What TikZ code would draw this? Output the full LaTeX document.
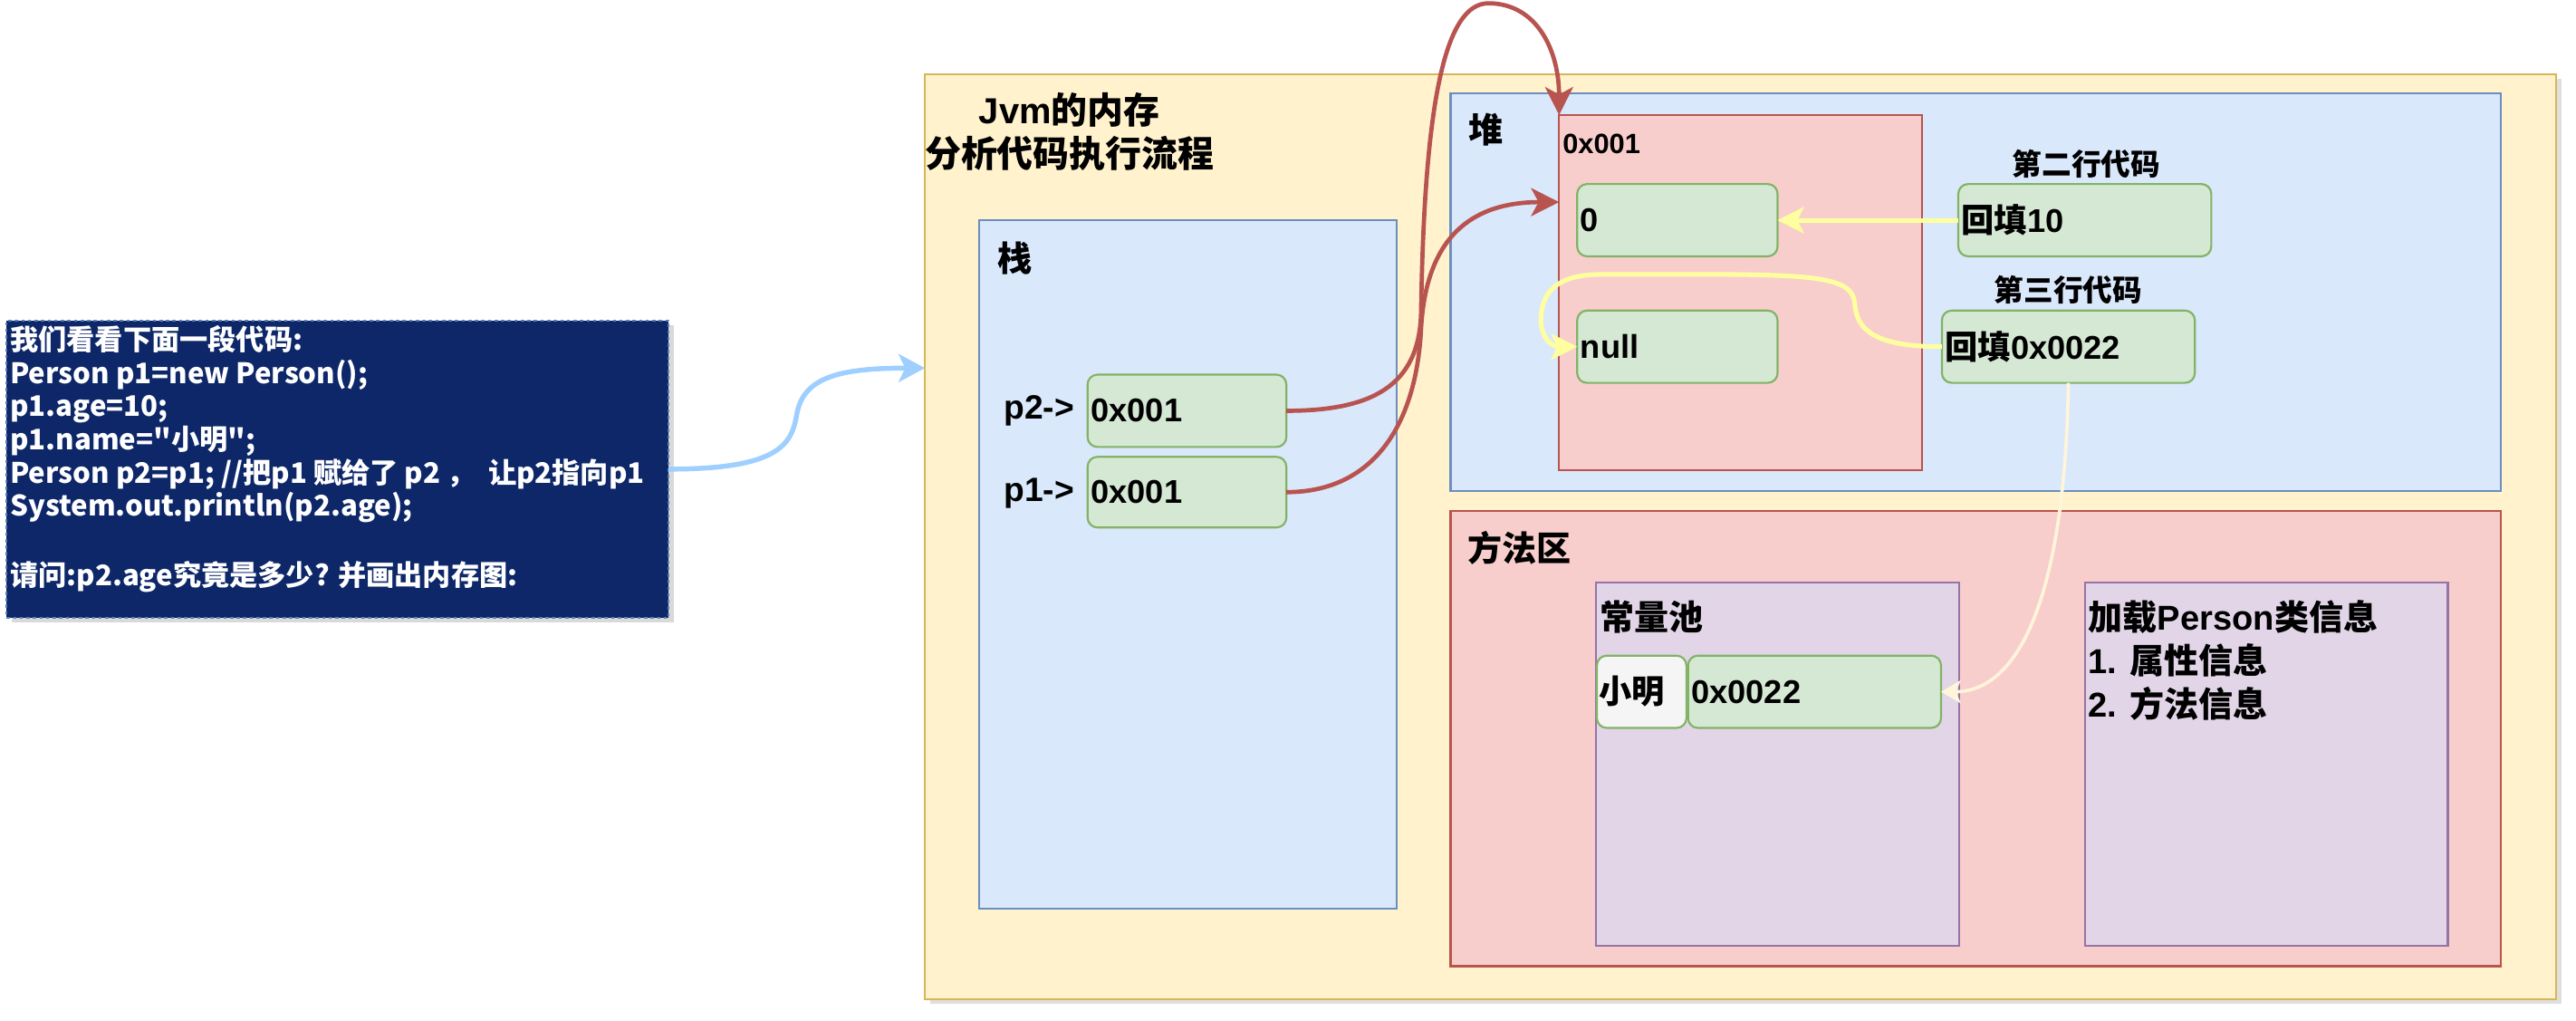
\documentclass[tikz,border=0pt]{standalone}
\usepackage{fontspec}
\setmainfont{Liberation Sans}
\newfontfamily\cjk{Noto Sans CJK SC}
\newcommand\zh[1]{{\cjk #1}}
\usetikzlibrary{arrows.meta,shadows}
\definecolor{yelF}{HTML}{FFF2CC}\definecolor{yelS}{HTML}{D6B656}
\definecolor{bluF}{HTML}{DAE8FC}\definecolor{bluS}{HTML}{6C8EBF}
\definecolor{redF}{HTML}{F8CECC}\definecolor{redS}{HTML}{B85450}
\definecolor{grnF}{HTML}{D5E8D4}\definecolor{grnS}{HTML}{82B366}
\definecolor{purF}{HTML}{E1D5E7}\definecolor{purS}{HTML}{9673A6}
\definecolor{gryF}{HTML}{F5F5F5}
\definecolor{navy}{HTML}{0D2769}\definecolor{navyS}{HTML}{5A7FB5}
\definecolor{yArrow}{HTML}{FFFFA0}\definecolor{cArrow}{HTML}{FFF5DB}
\definecolor{bArrow}{HTML}{9FCFFF}
\begin{document}
\begin{tikzpicture}[x=1pt,y=-1pt,
  area/.style={draw,line width=1.2pt,inner sep=0pt,outer sep=0pt,anchor=north west},
  gbox/.style={draw=grnS,fill=grnF,rounded corners=6pt,line width=1.2pt,inner sep=0pt,outer sep=0pt,
     anchor=north west,align=left,font=\bfseries\fontsize{20}{24}\selectfont},
  lbl/.style={font=\bfseries\fontsize{21}{26.5}\selectfont,inner sep=0pt,anchor=west},
  small/.style={font=\bfseries\fontsize{18}{22}\selectfont,inner sep=0pt},
  redline/.style={draw=redS,line width=2.6pt,-{Stealth[length=17pt,width=17pt,inset=4.5pt]}},
  yline/.style={draw=yArrow,line width=2.8pt,-{Stealth[length=16pt,width=16pt,inset=4pt]}},
  cline/.style={draw=cArrow,line width=2pt,-{Stealth[length=12pt,width=14pt,inset=3pt]}},
  bline/.style={draw=bArrow,line width=3pt,-{Stealth[length=16pt,width=17pt,inset=4pt]}}
]
\useasboundingbox (0,0) rectangle (1568,621);

% code screenshot
\node[area,draw=navyS,fill=navy,dash pattern=on 2pt off 2pt,line width=1pt,
      minimum width=403pt,minimum height=181pt,
      drop shadow={opacity=0.3,shadow xshift=3pt,shadow yshift=-3pt}] (code) at (4,195) {};
\node[inner sep=0pt,anchor=west,align=left,text=white,
      font=\cjk\bfseries\fontsize{17.2}{20.2}\selectfont] (codetext) at (6,279.3)
 {我们看看下面一段代码:\\
  Person p1=new Person();\\
  p1.age=10;\\
  p1.name="小明";\\
  Person p2=p1; //把p1 赋给了 p2 ，\ \ 让p2指向p1\\
  System.out.println(p2.age);\\
  \strut\\
  请问:p2.age究竟是多少? 并画出内存图:};

% JVM outer
\node[area,draw=yelS,fill=yelF,minimum width=993pt,minimum height=563pt,
      drop shadow={opacity=0.25,shadow xshift=3pt,shadow yshift=-3pt}] (jvm) at (563,45) {};
\node[inner sep=0pt,align=center,font=\bfseries\fontsize{22}{26.4}\selectfont] (title) at (651,80)
 {Jvm\zh{的内存}\\\zh{分析代码执行流程}};
\coordinate (jvmin) at (563,224);

% stack
\node[area,draw=bluS,fill=bluF,minimum width=254pt,minimum height=419pt] (stack) at (596,134) {};
\node[lbl] (stacklbl) at (607,157) {\zh{栈}};
\node[lbl,font=\bfseries\fontsize{20.5}{24}\selectfont] (p2lbl) at (611,250) {p2->};
\node[lbl,font=\bfseries\fontsize{20.5}{24}\selectfont] (p1lbl) at (611,300) {p1->};
\node[gbox,minimum width=121pt,minimum height=44pt,text width=117pt] (p2box) at (662,228) {0x001};
\node[gbox,minimum width=121pt,minimum height=43pt,text width=117pt] (p1box) at (662,278) {0x001};

% heap
\node[area,draw=bluS,fill=bluF,minimum width=639pt,minimum height=242pt] (heap) at (883,57) {};
\node[lbl] (heaplbl) at (894,79) {\zh{堆}};
\node[area,draw=redS,fill=redF,minimum width=221pt,minimum height=216pt] (obj) at (949,70) {};
\node[inner sep=0pt,anchor=west,font=\bfseries\fontsize{17}{20}\selectfont] (objlbl) at (951,87.5) {0x001};
\node[gbox,minimum width=122pt,minimum height=44pt,text width=118pt] (zero) at (960,112) {0};
\node[gbox,minimum width=122pt,minimum height=44pt,text width=118pt] (null) at (960,189) {null};
\node[small] (t2) at (1270,99.5) {\zh{第二行代码}};
\node[gbox,minimum width=154pt,minimum height=44pt,text width=150pt] (h10) at (1192,112) {\zh{回填}10};
\node[small] (t3) at (1259,176.5) {\zh{第三行代码}};
\node[gbox,minimum width=154pt,minimum height=44pt,text width=150pt] (h22) at (1182,189) {\zh{回填}0x0022};

% method area
\node[area,draw=redS,fill=redF,minimum width=639pt,minimum height=277pt] (method) at (883,311) {};
\node[lbl] (methodlbl) at (893,333.5) {\zh{方法区}};
\node[area,draw=purS,fill=purF,minimum width=221pt,minimum height=221pt] (pool) at (971.5,354.5) {};
\node[lbl] (poollbl) at (973.5,375.5) {\zh{常量池}};
\node[gbox,fill=gryF,minimum width=54.5pt,minimum height=44pt,text width=52pt] (xm) at (972,399) {\zh{小明}};
\node[gbox,minimum width=154pt,minimum height=44pt,text width=150pt] (x22) at (1027.5,399) {0x0022};
\node[area,draw=purS,fill=purF,minimum width=221pt,minimum height=221pt] (load) at (1269,354.5) {};
\node[inner sep=0pt,anchor=north west,align=left,font=\bfseries\fontsize{21}{26.5}\selectfont] (loadtxt) at (1271,365)
 {\zh{加载}Person\zh{类信息}\\1. \zh{属性信息}\\2. \zh{方法信息}};

% connectors
\coordinate (p1tip) at (949,123);
\draw[bline] (code.east) .. controls (475,285.5) and (482,270) .. (485,252)
   .. controls (489,230) and (510,224) .. (jvmin);
\draw[redline] (p2box.east) .. controls (835,250) and (864,235) .. (865,190)
   .. controls (867,60) and (880,2) .. (906,2)
   .. controls (935,2) and (949,30) .. (obj.north west);
\draw[redline] (p1box.east) .. controls (835,299.5) and (862,260) .. (865,200)
   .. controls (868,145) and (895,123) .. (p1tip);
\draw[yline] (h10.west) -- (zero.east);
\draw[yline] (h22.west) .. controls (1140,211) and (1130,200) .. (1129,185)
   .. controls (1128,170) and (1110,167) .. (1040,167) -- (975,167)
   .. controls (945,167) and (938,180) .. (938,195)
   .. controls (938,205) and (944,211) .. (null.west);
\draw[cline] (h22.south) .. controls (1257,360) and (1230,421) .. (x22.east);
\end{tikzpicture}
\end{document}
